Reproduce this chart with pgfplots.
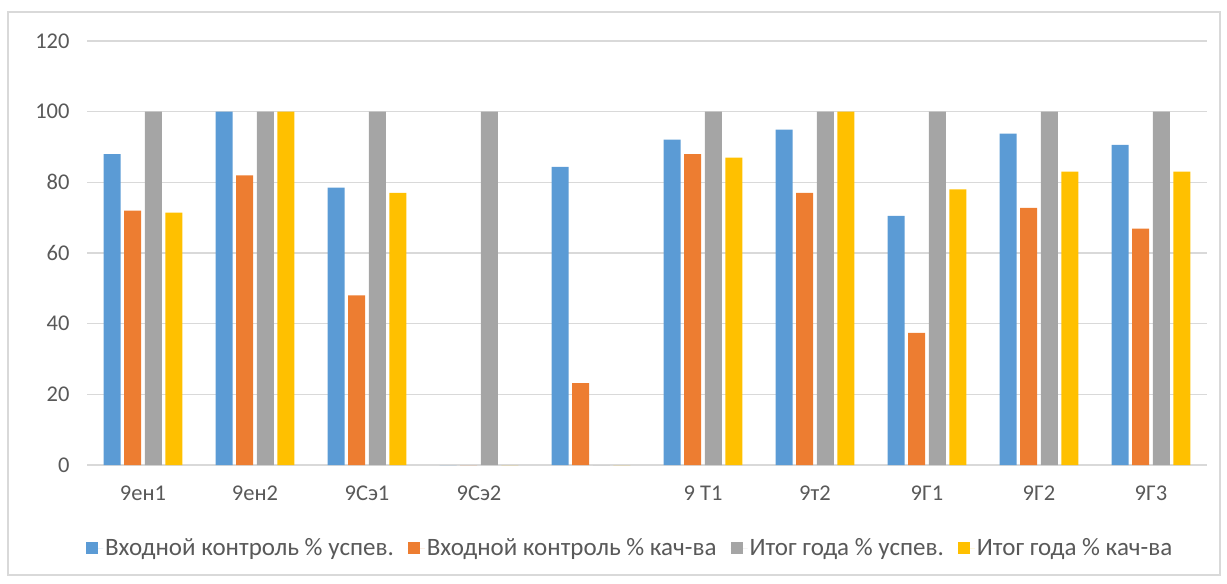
\documentclass[border=0pt]{standalone}
\usepackage{pgfplots}
\pgfplotsset{compat=1.18}
\usepackage{fontspec}
\setmainfont{Carlito}
\definecolor{c1}{HTML}{5B9BD5}
\definecolor{c2}{HTML}{ED7D31}
\definecolor{c3}{HTML}{A5A5A5}
\definecolor{c4}{HTML}{FFC000}
\definecolor{gridc}{HTML}{D9D9D9}
\definecolor{tickc}{HTML}{595959}
\begin{document}
\begin{tikzpicture}
\begin{axis}[
 scale only axis, width=1120bp, height=424bp,
 xmin=-0.5, xmax=9.5, ymin=0, ymax=120, ytick={0,20,...,120},
 xtick={0,...,9},
 xticklabels={9ен1,9ен2,9Сэ1,9Сэ2,{},9 Т1,9т2,9Г1,9Г2,9Г3},
 ybar, bar width=0.152,
 axis line style={draw=none}, tick style={draw=none},
 ymajorgrids, grid style={color=gridc, line width=1.2bp},
 ticklabel style={font=\fontsize{22.5bp}{26bp}\selectfont, text=tickc},
 /pgf/number format/assume math mode=true,
 yticklabel style={xshift=-14bp},
 xticklabel style={yshift=-13bp},
 clip=false,
 legend style={at={(0.485,-0.196)}, anchor=center, draw=none,
   font=\fontsize{25bp}{29bp}\selectfont, text=tickc, legend columns=4,
   /tikz/every even column/.append style={column sep=12bp}},
 legend image code/.code={\fill[#1,draw=none] (0bp,-6bp) rectangle (12bp,6bp); \path (0bp,0bp) -- (17bp,0bp);},
]
\addplot[fill=c1, draw=none, bar shift=-0.275] coordinates {(0,88) (1,100) (2,78.5) (3,0) (4,84.4) (5,92.1) (6,94.9) (7,70.5) (8,93.8) (9,90.6)};
\addplot[fill=c2, draw=none, bar shift=-0.092] coordinates {(0,72) (1,82) (2,48) (3,0) (4,23.2) (5,88) (6,77) (7,37.4) (8,72.8) (9,66.9)};
\addplot[fill=c3, draw=none, bar shift=0.092] coordinates {(0,100) (1,100) (2,100) (3,100) (4,0) (5,100) (6,100) (7,100) (8,100) (9,100)};
\addplot[fill=c4, draw=none, bar shift=0.275] coordinates {(0,71.4) (1,100) (2,77) (3,0) (4,0) (5,87) (6,100) (7,78) (8,83) (9,83)};
\legend{Входной контроль \% успев., Входной контроль \% кач-ва, Итог года \% успев., Итог года \% кач-ва}
\draw[color=gridc, line width=1.5bp] (rel axis cs:-0.0705,-0.2594) rectangle (rel axis cs:1.0116,1.0684);
\useasboundingbox (rel axis cs:-0.0777,-0.2783) rectangle (rel axis cs:1.0179,1.0967);
\end{axis}
\end{tikzpicture}
\end{document}
